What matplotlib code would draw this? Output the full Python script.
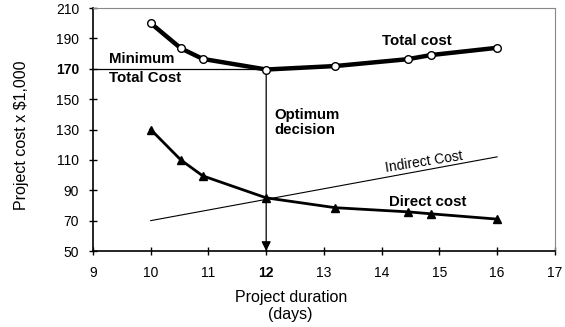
import matplotlib.pyplot as plt
import numpy as np

plt.rcParams['font.family'] = ['Liberation Sans', 'DejaVu Sans']

# %% data
duration = [10, 10.52, 10.9, 12, 13.2, 14.45, 14.85, 16]
total_cost = [200, 183.5, 176.5, 169.5, 171.8, 176.3, 179, 183.8]
direct_cost = [130, 110, 99.5, 85, 78.5, 75.8, 74.5, 71]
indirect_x = [10, 16]
indirect_cost = [70, 112]
optimum_x = 12
optimum_y = 170

xticks = [9, 10, 11, 12, 13, 14, 15, 16, 17]
yticks = [50, 70, 90, 110, 130, 150, 170, 190, 210]

# %% plot
fig = plt.figure(figsize=(5.65, 3.27), dpi=100)
ax = fig.add_axes([0.1646, 0.2324, 0.8174, 0.7431])

ax.plot(indirect_x, indirect_cost, color='black', lw=0.8, zorder=2)
ax.plot(duration, direct_cost, color='black', lw=2.0, marker='^',
        markersize=5.5, zorder=3)
ax.plot(duration, total_cost, color='black', lw=3.2, marker='o',
        markersize=5.5, markerfacecolor='white', markeredgecolor='black',
        markeredgewidth=1.0, zorder=4)

# minimum total cost line and optimum arrow
ax.plot([9, optimum_x], [optimum_y, optimum_y], color='black', lw=0.9, zorder=1)
ax.annotate('', xy=(optimum_x, 50), xytext=(optimum_x, optimum_y),
            arrowprops=dict(arrowstyle='-|>', color='black', lw=0.9,
                            mutation_scale=14, shrinkA=0, shrinkB=0))

bold = dict(fontsize=10.8, fontweight='bold')
ax.text(9.27, 171.8, 'Minimum', va='bottom', **bold)
ax.text(9.27, 168.3, 'Total Cost', va='top', **bold)
ax.text(12.15, 144, 'Optimum\ndecision', va='top', linespacing=1.1, **bold)
ax.text(14.0, 185.5, 'Total cost', va='baseline', **bold)
ax.text(14.13, 79.5, 'Direct cost', va='baseline', **bold)
ax.text(14.74, 108.8, 'Indirect Cost', fontsize=10, rotation=9,
        ha='center', va='center', rotation_mode='anchor')

ax.set_xlim(9, 17)
ax.set_ylim(50, 210)
ax.set_xticks(xticks)
ax.set_yticks(yticks)
ax.tick_params(direction='inout', length=6, width=1.0, labelsize=10)
ax.tick_params(axis='x', pad=8)
ax.tick_params(axis='y', pad=7)
for lab in ax.get_yticklabels():
    if lab.get_text() == '170':
        lab.set_fontweight('bold')
for lab in ax.get_xticklabels():
    if lab.get_text() == '12':
        lab.set_fontweight('bold')

ax.spines['left'].set_linewidth(1.2)
ax.spines['bottom'].set_linewidth(1.2)
ax.spines['top'].set_color('#888888')
ax.spines['right'].set_color('#888888')
ax.spines['top'].set_linewidth(0.8)
ax.spines['right'].set_linewidth(0.8)

ax.set_ylabel('Project cost x $1,000', fontsize=11.5)
ax.yaxis.set_label_coords(-0.138, 0.477)
ax.set_xlabel('Project duration\n(days)', fontsize=11.5, linespacing=1.1)
ax.xaxis.set_label_coords(0.428, -0.162)

fig.savefig('out.png')
plt.close()
